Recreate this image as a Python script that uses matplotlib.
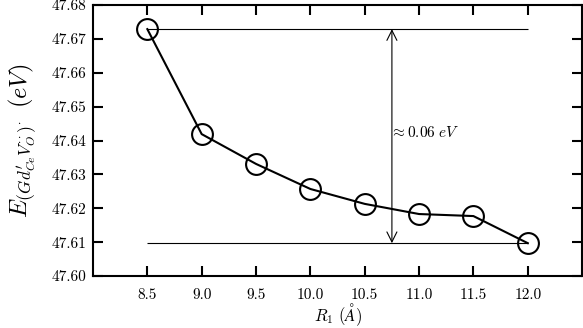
import matplotlib
matplotlib.use("Agg")
import matplotlib.pyplot as plt

plt.rcParams['font.family'] = 'serif'
plt.rcParams['font.serif'] = ['cmr10']
plt.rcParams['mathtext.fontset'] = 'cm'
plt.rcParams['axes.formatter.use_mathtext'] = True

# separation R1 and formation energy
r1 = [8.5, 9.0, 9.5, 10.0, 10.5, 11.0, 11.5, 12.0]
energy = [47.6729, 47.6419, 47.6331, 47.6257, 47.6213, 47.6183, 47.6177, 47.6097]
xticks = [8.5, 9.0, 9.5, 10.0, 10.5, 11.0, 11.5, 12.0]
yticks = [47.60, 47.61, 47.62, 47.63, 47.64, 47.65, 47.66, 47.67, 47.68]

fig = plt.figure(figsize=(5.83, 3.28), dpi=100)
ax = fig.add_axes([0.1595, 0.1585, 0.839, 0.826])

ax.plot(r1, energy, color='black', lw=1.5, marker='o', markersize=15,
        markerfacecolor='none', markeredgecolor='black', markeredgewidth=1.5)

# spread between the first and last point
e_top = max(energy)
e_bot = min(energy)
ax.hlines([e_top, e_bot], r1[0], r1[-1], color='black', lw=0.8)
ax.annotate('', xy=(10.75, e_top), xytext=(10.75, e_bot),
            arrowprops=dict(arrowstyle='<->', color='black', lw=0.8,
                            mutation_scale=18, shrinkA=0, shrinkB=0))
ax.text(10.735, (e_top + e_bot) / 2 + 0.0012,
        r'$\approx 0.06\ eV$', fontsize=11, va='center', ha='left')

ax.set_xlim(8.0, 12.5)
ax.set_ylim(47.60, 47.68)
ax.set_xticks(xticks)
ax.set_yticks(yticks)
ax.set_xticklabels(['%.1f' % t for t in xticks])
ax.set_yticklabels(['%.2f' % t for t in yticks])
ax.tick_params(direction='in', top=True, right=True, length=7, width=1.5,
               labelsize=11)
ax.tick_params(axis='x', pad=9)
ax.tick_params(axis='y', pad=5)
for s in ax.spines.values():
    s.set_linewidth(1.5)

ax.set_xlabel(r'$R_1\ (\AA)$', fontsize=12, labelpad=-1)
ax.set_ylabel(r"$E_{\left(Gd^{\prime}_{Ce}V^{\cdot\cdot}_{O}\right)^{\cdot}}\ \,(eV)$",
              fontsize=17.5)
ax.yaxis.set_label_coords(-0.112, 0.5)

fig.savefig('out.png', dpi=100)
